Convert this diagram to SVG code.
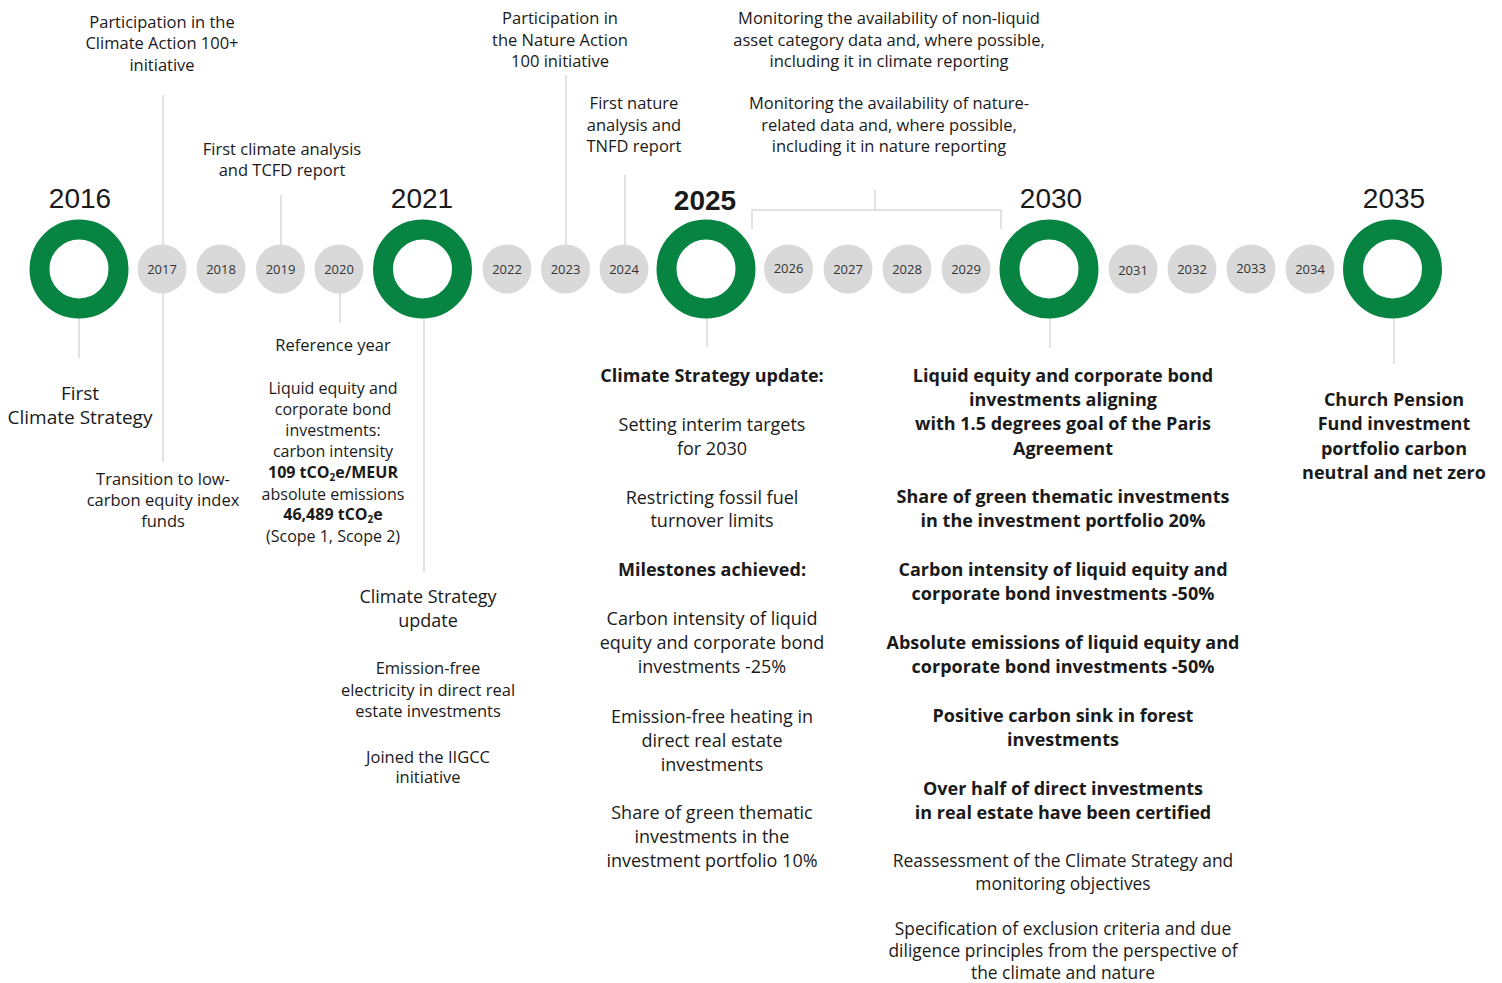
<svg xmlns="http://www.w3.org/2000/svg" width="1502" height="983" viewBox="0 0 1502 983">
<style>
text{font-family:"Open Sans","Liberation Sans",Arial,sans-serif;fill:#1a1a1a;text-anchor:middle}
.s{font-size:16.5px}
.r{font-size:16px}
.l{font-size:17.4px}
.m{font-size:18px}
.b{font-size:18px;font-weight:bold}
.yr{font-size:28px;font-family:"Liberation Sans",Arial,sans-serif}
.cy{font-size:13px;fill:#333}
.sub{font-size:10px}
.ring{fill:none;stroke:#088442;stroke-width:20}
.dot{fill:#d9d9d9}
.ln{stroke:#d9d9d9;stroke-width:1.5;fill:none}
</style>
<rect width="1502" height="983" fill="#fff"/>
<g id="connectors">
<line class="ln" x1="163" y1="95" x2="163" y2="245"/>
<line class="ln" x1="163" y1="293" x2="163" y2="462"/>
<line class="ln" x1="281" y1="195" x2="281" y2="245"/>
<line class="ln" x1="340" y1="293" x2="340" y2="323"/>
<line class="ln" x1="79" y1="318" x2="79" y2="358"/>
<line class="ln" x1="424" y1="318" x2="424" y2="572"/>
<line class="ln" x1="566" y1="75" x2="566" y2="245"/>
<line class="ln" x1="625" y1="175" x2="625" y2="245"/>
<line class="ln" x1="707" y1="318" x2="707" y2="347"/>
<polyline class="ln" points="752,229 752,210 1001,210 1001,229"/>
<line class="ln" x1="875" y1="190" x2="875" y2="210"/>
<line class="ln" x1="1050" y1="318" x2="1050" y2="348"/>
<line class="ln" x1="1394" y1="318" x2="1394" y2="364"/>
</g>
<g id="y2016"><circle class="ring" cx="79" cy="269" r="39.5"/><text class="yr" x="80" y="208">2016</text></g>
<g id="y2017"><circle class="dot" cx="162" cy="269" r="24.5"/><text class="cy" x="162" y="274">2017</text></g>
<g id="y2018"><circle class="dot" cx="221" cy="269" r="24.5"/><text class="cy" x="221" y="274">2018</text></g>
<g id="y2019"><circle class="dot" cx="280.5" cy="269" r="24.5"/><text class="cy" x="280.5" y="274">2019</text></g>
<g id="y2020"><circle class="dot" cx="339" cy="269" r="24.5"/><text class="cy" x="339" y="274">2020</text></g>
<g id="y2021"><circle class="ring" cx="422.5" cy="269" r="39.5"/><text class="yr" x="422" y="208">2021</text></g>
<g id="y2022"><circle class="dot" cx="507" cy="269" r="24.5"/><text class="cy" x="507" y="274">2022</text></g>
<g id="y2023"><circle class="dot" cx="565.5" cy="269" r="24.5"/><text class="cy" x="565.5" y="274">2023</text></g>
<g id="y2024"><circle class="dot" cx="624" cy="269" r="24.5"/><text class="cy" x="624" y="274">2024</text></g>
<g id="y2025"><circle class="ring" cx="706" cy="269" r="39.5"/><text class="yr" x="705" y="210" font-weight="bold">2025</text></g>
<g id="y2026"><circle class="dot" cx="788.5" cy="269" r="24.5"/><text class="cy" x="788.5" y="273">2026</text></g>
<g id="y2027"><circle class="dot" cx="848" cy="269" r="24.5"/><text class="cy" x="848" y="274">2027</text></g>
<g id="y2028"><circle class="dot" cx="907" cy="269" r="24.5"/><text class="cy" x="907" y="274">2028</text></g>
<g id="y2029"><circle class="dot" cx="966" cy="269" r="24.5"/><text class="cy" x="966" y="274">2029</text></g>
<g id="y2030"><circle class="ring" cx="1049" cy="269" r="39.5"/><text class="yr" x="1051" y="208">2030</text></g>
<g id="y2031"><circle class="dot" cx="1133" cy="269" r="24.5"/><text class="cy" x="1133" y="275">2031</text></g>
<g id="y2032"><circle class="dot" cx="1192" cy="269" r="24.5"/><text class="cy" x="1192" y="274">2032</text></g>
<g id="y2033"><circle class="dot" cx="1251" cy="269" r="24.5"/><text class="cy" x="1251" y="273">2033</text></g>
<g id="y2034"><circle class="dot" cx="1310" cy="269" r="24.5"/><text class="cy" x="1310" y="274">2034</text></g>
<g id="y2035"><circle class="ring" cx="1392.5" cy="269" r="39.5"/><text class="yr" x="1394" y="208">2035</text></g>

<g id="t-ca100"><text class="s" x="162" y="28">Participation in the</text><text class="s" x="162" y="49">Climate Action 100+</text><text class="s" x="162" y="71">initiative</text></g>
<g id="t-tcfd"><text class="s" x="282" y="155">First climate analysis</text><text class="s" x="282" y="176">and TCFD report</text></g>
<g id="t-na100"><text class="s" x="560" y="24">Participation in</text><text class="s" x="560" y="46">the Nature Action</text><text class="s" x="560" y="67">100 initiative</text></g>
<g id="t-tnfd"><text class="s" x="634" y="109">First nature</text><text class="s" x="634" y="131">analysis and</text><text class="s" x="634" y="152">TNFD report</text></g>
<g id="t-monitor"><text class="s" x="889" y="24">Monitoring the availability of non-liquid</text><text class="s" x="889" y="46">asset category data and, where possible,</text><text class="s" x="889" y="67">including it in climate reporting</text>
<text class="s" x="889" y="109">Monitoring the availability of nature-</text><text class="s" x="889" y="131">related data and, where possible,</text><text class="s" x="889" y="152">including it in nature reporting</text></g>

<g id="t-2016"><text x="80" y="400" font-size="19">First</text><text x="80" y="424" font-size="19">Climate Strategy</text></g>
<g id="t-2017"><text class="s" x="163" y="485">Transition to low-</text><text class="s" x="163" y="506">carbon equity index</text><text class="s" x="163" y="527">funds</text></g>
<g id="t-2020">
<text class="s" x="333" y="351">Reference year</text>
<text class="r" x="333" y="394">Liquid equity and</text>
<text class="r" x="333" y="415">corporate bond</text>
<text class="r" x="333" y="436">investments:</text>
<text class="r" x="333" y="457">carbon intensity</text>
<text class="r" x="333" y="478" font-weight="bold">109 tCO<tspan class="sub" dy="3">2</tspan><tspan dy="-3">e/MEUR</tspan></text>
<text class="r" x="333" y="500">absolute emissions</text>
<text class="r" x="333" y="520" font-weight="bold">46,489 tCO<tspan class="sub" dy="3">2</tspan><tspan dy="-3">e</tspan></text>
<text class="r" x="333" y="542">(Scope 1, Scope 2)</text>
</g>
<g id="t-2021">
<text class="m" x="428" y="603">Climate Strategy</text><text class="m" x="428" y="627">update</text>
<text class="s" x="428" y="674">Emission-free</text><text class="s" x="428" y="696">electricity in direct real</text><text class="s" x="428" y="717">estate investments</text>
<text class="s" x="428" y="763">Joined the IIGCC</text><text class="s" x="428" y="783">initiative</text>
</g>
<g id="t-2025">
<text class="b" x="712" y="382">Climate Strategy update:</text>
<text class="m" x="712" y="431">Setting interim targets</text><text class="m" x="712" y="455">for 2030</text>
<text class="m" x="712" y="504">Restricting fossil fuel</text><text class="m" x="712" y="527">turnover limits</text>
<text class="b" x="712" y="576">Milestones achieved:</text>
<text class="m" x="712" y="625">Carbon intensity of liquid</text><text class="m" x="712" y="649">equity and corporate bond</text><text class="m" x="712" y="673">investments -25%</text>
<text class="m" x="712" y="723">Emission-free heating in</text><text class="m" x="712" y="747">direct real estate</text><text class="m" x="712" y="771">investments</text>
<text class="m" x="712" y="819">Share of green thematic</text><text class="m" x="712" y="843">investments in the</text><text class="m" x="712" y="867">investment portfolio 10%</text>
</g>
<g id="t-2030">
<text class="b" x="1063" y="382">Liquid equity and corporate bond</text><text class="b" x="1063" y="406">investments aligning</text><text class="b" x="1063" y="430">with 1.5 degrees goal of the Paris</text><text class="b" x="1063" y="455">Agreement</text>
<text class="b" x="1063" y="503">Share of green thematic investments</text><text class="b" x="1063" y="527">in the investment portfolio 20%</text>
<text class="b" x="1063" y="576">Carbon intensity of liquid equity and</text><text class="b" x="1063" y="600">corporate bond investments -50%</text>
<text class="b" x="1063" y="649">Absolute emissions of liquid equity and</text><text class="b" x="1063" y="673">corporate bond investments -50%</text>
<text class="b" x="1063" y="722">Positive carbon sink in forest</text><text class="b" x="1063" y="746">investments</text>
<text class="b" x="1063" y="795">Over half of direct investments</text><text class="b" x="1063" y="819">in real estate have been certified</text>
<text class="l" x="1063" y="867">Reassessment of the Climate Strategy and</text><text class="l" x="1063" y="890">monitoring objectives</text>
<text class="l" x="1063" y="935">Specification of exclusion criteria and due</text><text class="l" x="1063" y="957">diligence principles from the perspective of</text><text class="l" x="1063" y="979">the climate and nature</text>
</g>
<g id="t-2035">
<text class="b" x="1394" y="406">Church Pension</text><text class="b" x="1394" y="430">Fund investment</text><text class="b" x="1394" y="455">portfolio carbon</text><text class="b" x="1394" y="479">neutral and net zero</text>
</g>
</svg>
